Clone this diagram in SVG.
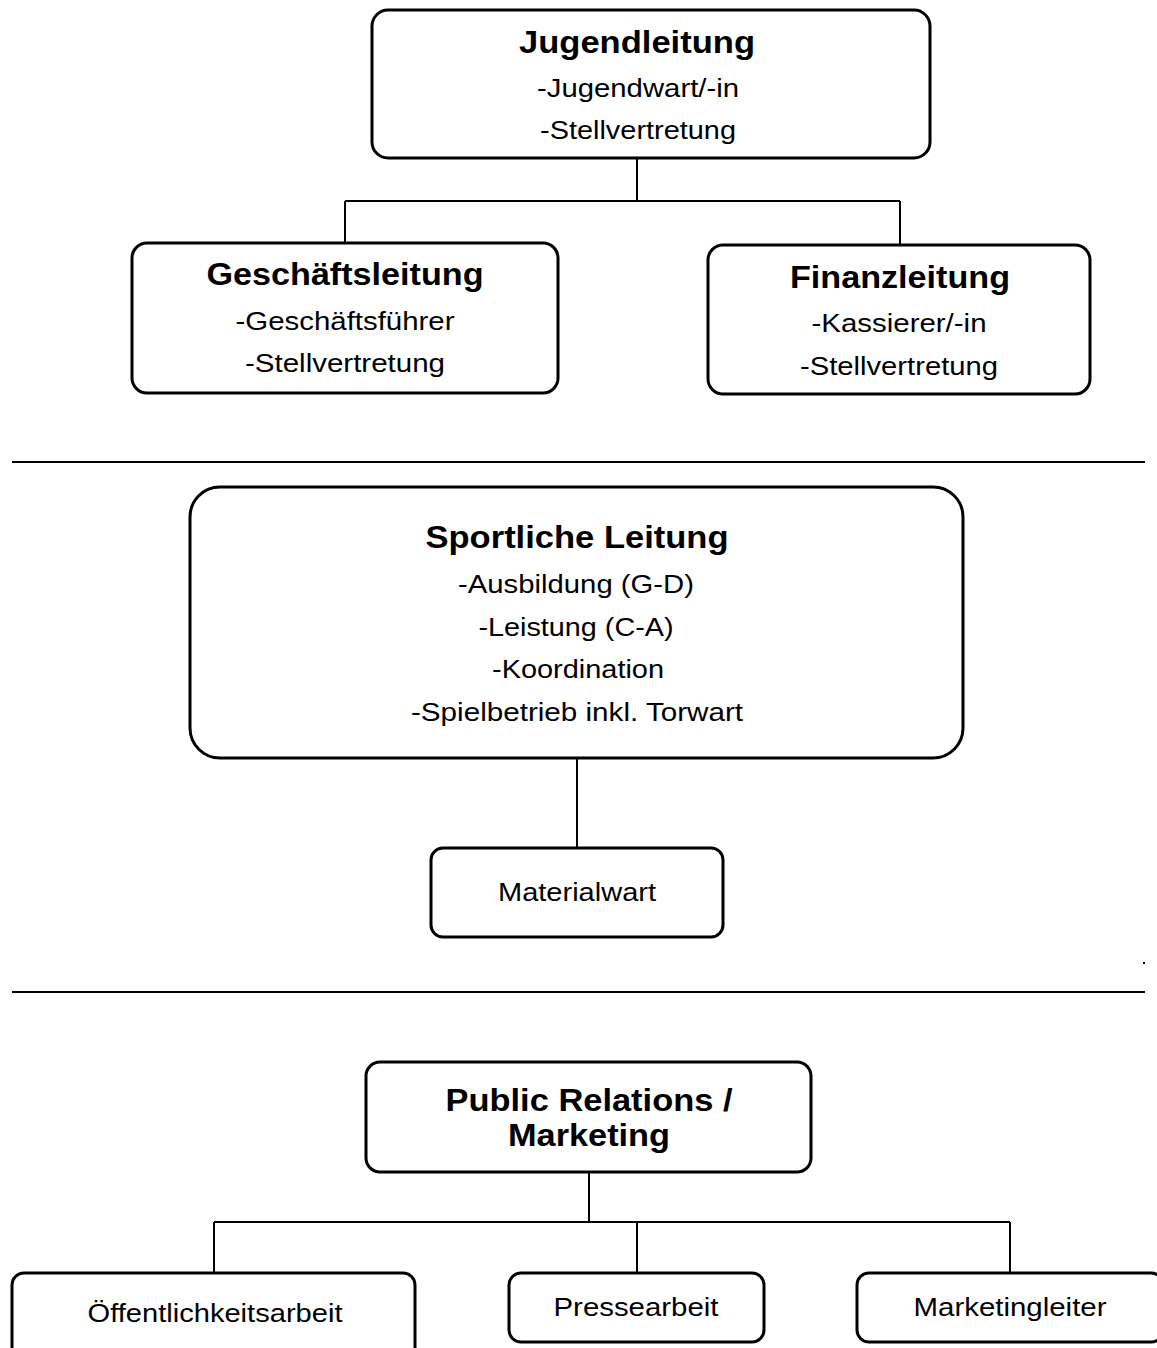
<svg xmlns="http://www.w3.org/2000/svg" width="1157" height="1348" viewBox="0 0 1157 1348">
<style>
.box{fill:#fff;stroke:#000;stroke-width:3}
.con{fill:none;stroke:#000;stroke-width:2}
.sep{stroke:#000;stroke-width:2}
.t{font-family:"Liberation Sans",Arial,sans-serif;font-size:32px;font-weight:bold;text-anchor:middle;fill:#000}
.s{font-family:"Liberation Sans",Arial,sans-serif;font-size:26px;text-anchor:middle;fill:#000}
</style>
<rect width="1157" height="1348" fill="#fff"/>
<g id="connectors">
<path class="con" d="M637,158 V201 M345,201 H900 M345,201 V243 M900,201 V245"/>
<path class="con" d="M577,758 V848"/>
<path class="con" d="M589,1172 V1222 M214,1222 H1010 M214,1222 V1273 M637,1222 V1273 M1010,1222 V1273"/>
</g>
<g id="separators">
<line class="sep" x1="12" y1="462" x2="1145" y2="462"/>
<line class="sep" x1="12" y1="992" x2="1145" y2="992"/>
<rect x="1143" y="962" width="2" height="2" fill="#000"/>
</g>
<g id="jugendleitung">
<rect class="box" x="372" y="10" width="558" height="148" rx="16"/>
<text class="t" x="637" y="53" textLength="236" lengthAdjust="spacingAndGlyphs">Jugendleitung</text>
<text class="s" x="638" y="97" textLength="202" lengthAdjust="spacingAndGlyphs">-Jugendwart/-in</text>
<text class="s" x="638" y="139" textLength="196" lengthAdjust="spacingAndGlyphs">-Stellvertretung</text>
</g>
<g id="geschaeftsleitung">
<rect class="box" x="132" y="243" width="426" height="150" rx="15"/>
<text class="t" x="345" y="285" textLength="277" lengthAdjust="spacingAndGlyphs">Geschäftsleitung</text>
<text class="s" x="345" y="330" textLength="219" lengthAdjust="spacingAndGlyphs">-Geschäftsführer</text>
<text class="s" x="345" y="372" textLength="200" lengthAdjust="spacingAndGlyphs">-Stellvertretung</text>
</g>
<g id="finanzleitung">
<rect class="box" x="708" y="245" width="382" height="149" rx="15"/>
<text class="t" x="900" y="288" textLength="220" lengthAdjust="spacingAndGlyphs">Finanzleitung</text>
<text class="s" x="899" y="332" textLength="175" lengthAdjust="spacingAndGlyphs">-Kassierer/-in</text>
<text class="s" x="899" y="375" textLength="198" lengthAdjust="spacingAndGlyphs">-Stellvertretung</text>
</g>
<g id="sportliche-leitung">
<rect class="box" x="190" y="487" width="773" height="271" rx="30"/>
<text class="t" x="577" y="548" textLength="303" lengthAdjust="spacingAndGlyphs">Sportliche Leitung</text>
<text class="s" x="576" y="593" textLength="236" lengthAdjust="spacingAndGlyphs">-Ausbildung (G-D)</text>
<text class="s" x="576" y="636" textLength="195" lengthAdjust="spacingAndGlyphs">-Leistung (C-A)</text>
<text class="s" x="578" y="678" textLength="172" lengthAdjust="spacingAndGlyphs">-Koordination</text>
<text class="s" x="577" y="721" textLength="332" lengthAdjust="spacingAndGlyphs">-Spielbetrieb inkl. Torwart</text>
</g>
<g id="materialwart">
<rect class="box" x="431" y="848" width="292" height="89" rx="12"/>
<text class="s" x="577" y="901" textLength="158" lengthAdjust="spacingAndGlyphs">Materialwart</text>
</g>
<g id="public-relations">
<rect class="box" x="366" y="1062" width="445" height="110" rx="14"/>
<text class="t" x="589" y="1111" textLength="287" lengthAdjust="spacingAndGlyphs">Public Relations /</text>
<text class="t" x="589" y="1146" textLength="162" lengthAdjust="spacingAndGlyphs">Marketing</text>
</g>
<g id="oeffentlichkeitsarbeit">
<rect class="box" x="12" y="1273" width="403" height="90" rx="12"/>
<text class="s" x="215" y="1322" textLength="255" lengthAdjust="spacingAndGlyphs">Öffentlichkeitsarbeit</text>
</g>
<g id="pressearbeit">
<rect class="box" x="509" y="1273" width="255" height="69" rx="12"/>
<text class="s" x="636" y="1316" textLength="165" lengthAdjust="spacingAndGlyphs">Pressearbeit</text>
</g>
<g id="marketingleiter">
<rect class="box" x="857" y="1273" width="306" height="69" rx="12"/>
<text class="s" x="1010" y="1316" textLength="193" lengthAdjust="spacingAndGlyphs">Marketingleiter</text>
</g>
</svg>
